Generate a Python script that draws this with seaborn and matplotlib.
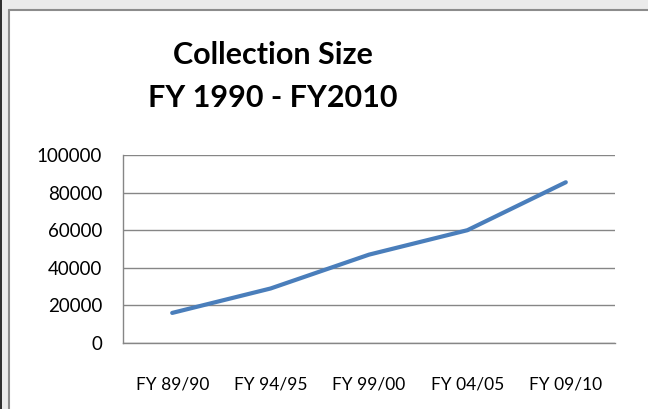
import matplotlib
matplotlib.use("Agg")
import matplotlib.pyplot as plt
import seaborn as sns
import pandas as pd
from matplotlib.patches import Rectangle

# data
years = ["FY 89/90", "FY 94/95", "FY 99/00", "FY 04/05", "FY 09/10"]
collection = [16000, 29000, 47000, 60000, 85500]
y_ticks = [0, 20000, 40000, 60000, 80000, 100000]

df = pd.DataFrame({"year": years, "size": collection})

sns.set_style("white")
plt.rcParams["font.family"] = ["Lato", "DejaVu Sans"]

fig = plt.figure(figsize=(6.48, 4.09), dpi=100)
fig.patch.set_facecolor("white")

# window frame around the chart area (screenshot look)
fig.patches.append(Rectangle((0, 1 - 10 / 409), 1, 10 / 409, transform=fig.transFigure,
                             facecolor="#ebebeb", edgecolor="none", zorder=0))
fig.patches.append(Rectangle((0, 0), 9 / 648, 1, transform=fig.transFigure,
                             facecolor="#ebebeb", edgecolor="none", zorder=0))
fig.patches.append(Rectangle((0, 0), 2 / 648, 1, transform=fig.transFigure,
                             facecolor="#303030", edgecolor="none", zorder=0))
fig.lines.append(plt.Line2D([9 / 648, 1], [1 - 10 / 409, 1 - 10 / 409], transform=fig.transFigure,
                            color="#8c8c8c", lw=1.5))
fig.lines.append(plt.Line2D([9 / 648, 9 / 648], [0, 1 - 10 / 409], transform=fig.transFigure,
                            color="#8c8c8c", lw=1.5))

ax = fig.add_axes([123 / 648, 1 - 343 / 409, (615 - 123) / 648, (343 - 155) / 409])
ax.set_facecolor("white")

sns.lineplot(data=df, x="year", y="size", ax=ax, color="#4a7ebb", linewidth=3, sort=False)

ax.set_xlim(-0.5, len(years) - 0.5)
ax.set_ylim(0, 100000)
ax.set_yticks(y_ticks)
ax.set_yticklabels([str(v) for v in y_ticks], fontsize=13.5, color="black")
ax.yaxis.grid(True, color="#868686", linewidth=1)
ax.set_axisbelow(True)

# category ticks sit between categories, labels centred
ax.set_xticks([i - 0.5 for i in range(len(years) + 1)])
ax.set_xticklabels([])
ax.set_xticks(range(len(years)), minor=True)
ax.set_xticklabels(years, minor=True, fontsize=12.5, color="black")
ax.tick_params(axis="x", which="major", direction="out", length=6, width=1, color="#868686")
ax.tick_params(axis="x", which="minor", length=0, pad=24)
ax.tick_params(axis="y", direction="out", length=5, width=1, color="#868686", pad=10)

for s in ["top", "right"]:
    ax.spines[s].set_visible(False)
for s in ["left", "bottom"]:
    ax.spines[s].set_color("#868686")
    ax.spines[s].set_linewidth(1)

ax.set_xlabel("")
ax.set_ylabel("")

fig.text(273 / 648, 1 - 55 / 409, "Collection Size", ha="center", va="center",
         fontsize=22, fontweight="bold", color="black")
fig.text(273 / 648, 1 - 98 / 409, "FY 1990 - FY2010", ha="center", va="center",
         fontsize=22, fontweight="bold", color="black")

fig.savefig("out.png", dpi=100, facecolor=fig.get_facecolor())
